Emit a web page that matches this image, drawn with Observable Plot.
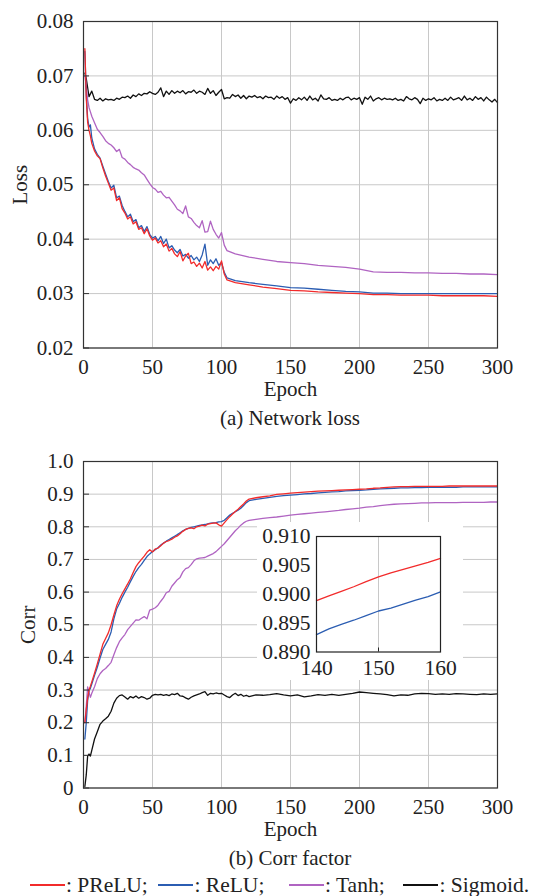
<!DOCTYPE html>
<html><head><meta charset="utf-8">
<script src="https://cdn.jsdelivr.net/npm/d3@7"></script>
<script src="https://cdn.jsdelivr.net/npm/@observablehq/plot@0.6"></script>
<style>
html,body{margin:0;padding:0;background:#fff;}
#root{position:relative;width:534px;height:896px;overflow:hidden;font-family:"Liberation Serif","Times New Roman",serif;color:#222;}
#root svg{position:absolute;}
#root svg text{font-family:"Liberation Serif","Times New Roman",serif;font-variant-numeric:normal;}
.cap{position:absolute;left:83px;width:414px;text-align:center;font-size:21px;line-height:21px;white-space:nowrap;}
.lg-line{position:absolute;height:1.5px;}
.lg-text{position:absolute;font-size:21.5px;line-height:21.5px;white-space:nowrap;}
</style></head><body><div id="root"></div>
<script>
// ---------- tick values ----------
const epochTicks = [0, 50, 100, 150, 200, 250, 300];
const lossTicks = [0.02, 0.03, 0.04, 0.05, 0.06, 0.07, 0.08];
const corrTicks = [0, 0.1, 0.2, 0.3, 0.4, 0.5, 0.6, 0.7, 0.8, 0.9, 1.0];
const insetEpochTicks = [140, 150, 160];
const insetCorrTicks = [0.890, 0.895, 0.900, 0.905, 0.910];

// ---------- (a) Network loss ----------
const lossEpochs = [1,2,3,4,5,6,8,10,12,14,16,18,20,22,24,26,28,30,32,34,36,38,40,42,44,46,48,50,52,54,56,58,60,62,64,66,68,70,72,74,76,78,80,82,84,86,88,90,92,94,96,98,100,102,104,110,120,130,140,150,160,170,180,190,200,210,220,230,240,250,260,270,280,290,300];
const lossPReLU = [0.0750,0.0660,0.0615,0.0600,0.0590,0.0576,0.0562,0.0553,0.0548,0.0531,0.0516,0.0503,0.0490,0.0494,0.0471,0.0476,0.0456,0.0448,0.0437,0.0441,0.0428,0.0432,0.0418,0.0421,0.0410,0.0419,0.0406,0.0398,0.0402,0.0393,0.0397,0.0386,0.0391,0.0378,0.0383,0.0373,0.0368,0.0377,0.0360,0.0369,0.0374,0.0355,0.0358,0.0350,0.0356,0.0347,0.0359,0.0343,0.0349,0.0342,0.0350,0.0345,0.0360,0.0336,0.0325,0.0320,0.0316,0.0312,0.0309,0.0306,0.0305,0.0303,0.0302,0.0301,0.0300,0.0298,0.0298,0.0297,0.0297,0.0297,0.0296,0.0296,0.0296,0.0296,0.0295];
const lossReLU = [0.0745,0.0665,0.0622,0.0606,0.0610,0.0586,0.0566,0.0556,0.0549,0.0534,0.0520,0.0506,0.0494,0.0499,0.0476,0.0479,0.0462,0.0451,0.0441,0.0446,0.0432,0.0436,0.0421,0.0425,0.0414,0.0423,0.0409,0.0402,0.0405,0.0397,0.0405,0.0392,0.0400,0.0384,0.0388,0.0380,0.0375,0.0381,0.0369,0.0372,0.0365,0.0370,0.0362,0.0367,0.0359,0.0371,0.0391,0.0352,0.0362,0.0355,0.0364,0.0352,0.0357,0.0339,0.0329,0.0324,0.0320,0.0317,0.0314,0.0311,0.0310,0.0308,0.0306,0.0304,0.0303,0.0301,0.0301,0.0300,0.0300,0.0300,0.0300,0.0300,0.0300,0.0300,0.0300];
const lossTanh = [0.0700,0.0682,0.0656,0.0642,0.0634,0.0626,0.0614,0.0602,0.0596,0.0589,0.0581,0.0576,0.0573,0.0568,0.0561,0.0565,0.0550,0.0547,0.0541,0.0537,0.0532,0.0529,0.0527,0.0522,0.0518,0.0510,0.0502,0.0495,0.0492,0.0486,0.0488,0.0481,0.0476,0.0477,0.0470,0.0463,0.0455,0.0452,0.0447,0.0461,0.0441,0.0438,0.0431,0.0425,0.0421,0.0434,0.0413,0.0414,0.0433,0.0418,0.0409,0.0402,0.0412,0.0389,0.0379,0.0373,0.0367,0.0363,0.0359,0.0357,0.0355,0.0352,0.0350,0.0348,0.0345,0.0340,0.0339,0.0339,0.0338,0.0338,0.0337,0.0337,0.0336,0.0336,0.0335];
const sigLossEpochs = [1,2,4,6,8,10,12,14,16,18,20,22,24,26,28,30,32,34,36,38,40,42,44,46,48,50,52,54,56,58,60,62,64,66,68,70,72,74,76,78,80,82,84,86,88,90,92,94,96,98,100,102,104,106,108,110,112,114,116,118,120,122,124,126,128,130,132,134,136,138,140,142,144,146,148,150,152,154,156,158,160,162,164,166,168,170,172,174,176,178,180,182,184,186,188,190,192,194,196,198,200,202,204,206,208,210,212,214,216,218,220,222,224,226,228,230,232,234,236,238,240,242,244,246,248,250,252,254,256,258,260,262,264,266,268,270,272,274,276,278,280,282,284,286,288,290,292,294,296,298,300];
const lossSigmoid = [0.0705,
0.0695,0.0662,0.0672,0.0657,0.0655,0.0659,0.0654,0.0658,0.0656,0.0657,
0.0655,0.0659,0.0657,0.0661,0.0660,0.0663,0.0659,0.0665,0.0662,0.0667,
0.0664,0.0668,0.0667,0.0671,0.0668,0.0666,0.0670,0.0678,0.0662,0.0672,
0.0666,0.0673,0.0668,0.0672,0.0669,0.0673,0.0667,0.0671,0.0670,0.0674,
0.0668,0.0672,0.0670,0.0666,0.0677,0.0668,0.0673,0.0664,0.0670,0.0675,
0.0658,0.0660,0.0659,0.0666,0.0662,0.0665,0.0659,0.0664,0.0658,0.0663,
0.0661,0.0664,0.0660,0.0662,0.0658,0.0663,0.0660,0.0661,0.0657,0.0663,
0.0659,0.0662,0.0657,0.0660,0.0650,0.0658,0.0655,0.0660,0.0656,0.0661,
0.0655,0.0663,0.0656,0.0659,0.0654,0.0665,0.0658,0.0657,0.0660,0.0655,
0.0657,0.0655,0.0659,0.0656,0.0660,0.0661,0.0656,0.0659,0.0657,0.0660,
0.0648,0.0661,0.0657,0.0663,0.0654,0.0658,0.0660,0.0656,0.0659,0.0657,
0.0658,0.0656,0.0659,0.0655,0.0657,0.0654,0.0662,0.0658,0.0656,0.0660,
0.0657,0.0649,0.0659,0.0655,0.0658,0.0656,0.0660,0.0654,0.0657,0.0655,
0.0659,0.0655,0.0661,0.0656,0.0658,0.0660,0.0655,0.0663,0.0656,0.0659,
0.0655,0.0662,0.0657,0.0660,0.0654,0.0661,0.0656,0.0652,0.0657,0.0651];

// ---------- (b) Corr factor ----------
const corrEpochs = [1,2,3,4,5,6,8,10,12,14,16,18,20,22,24,26,28,30,32,34,36,38,40,42,44,46,48,50,52,54,56,58,60,62,64,66,68,70,72,74,76,78,80,82,84,86,88,90,92,94,96,98,100,102,104,106,108,110,112,114,116,118,120,125,130,135,140,145,150,155,160,165,170,175,180,185,190,195,200,205,210,215,220,225,230,235,240,245,250,255,260,265,270,275,280,285,290,295,300];
const corrPReLU = [0.200,0.240,0.275,0.300,0.312,0.325,0.352,0.380,0.410,0.440,0.458,0.475,0.500,0.530,0.558,0.578,0.595,0.610,0.625,0.641,0.660,0.678,0.690,0.700,0.710,0.722,0.730,0.723,0.732,0.735,0.742,0.750,0.755,0.758,0.762,0.768,0.772,0.779,0.786,0.792,0.795,0.797,0.794,0.800,0.802,0.805,0.803,0.808,0.810,0.811,0.812,0.806,0.802,0.812,0.822,0.831,0.839,0.847,0.854,0.862,0.870,0.879,0.885,0.889,0.892,0.895,0.899,0.901,0.903,0.9045,0.9064,0.908,0.909,0.910,0.911,0.912,0.913,0.914,0.915,0.916,0.918,0.919,0.921,0.922,0.923,0.923,0.924,0.924,0.924,0.924,0.924,0.925,0.925,0.925,0.925,0.925,0.925,0.925,0.925];
const corrReLU = [0.150,0.200,0.268,0.298,0.305,0.318,0.345,0.370,0.398,0.424,0.440,0.455,0.478,0.518,0.548,0.565,0.584,0.600,0.615,0.632,0.648,0.663,0.675,0.685,0.697,0.709,0.717,0.724,0.730,0.736,0.744,0.750,0.756,0.761,0.766,0.771,0.776,0.782,0.788,0.792,0.795,0.798,0.800,0.802,0.804,0.806,0.807,0.809,0.811,0.812,0.813,0.815,0.816,0.820,0.828,0.836,0.841,0.846,0.851,0.857,0.865,0.874,0.880,0.884,0.887,0.890,0.8932,0.8955,0.8972,0.8988,0.9006,0.902,0.904,0.9055,0.907,0.908,0.910,0.911,0.912,0.913,0.915,0.916,0.917,0.918,0.919,0.919,0.920,0.920,0.921,0.921,0.921,0.921,0.921,0.922,0.922,0.922,0.922,0.922,0.922];
const corrTanh = [0.200,0.250,0.310,0.292,0.278,0.290,0.310,0.335,0.350,0.360,0.366,0.375,0.385,0.408,0.430,0.448,0.460,0.470,0.485,0.495,0.505,0.515,0.514,0.520,0.525,0.518,0.545,0.548,0.552,0.560,0.572,0.583,0.598,0.602,0.618,0.628,0.638,0.645,0.662,0.672,0.675,0.684,0.696,0.702,0.704,0.705,0.706,0.710,0.714,0.718,0.724,0.732,0.740,0.748,0.758,0.768,0.778,0.788,0.796,0.805,0.812,0.817,0.820,0.823,0.826,0.828,0.830,0.833,0.836,0.838,0.840,0.842,0.844,0.846,0.848,0.850,0.853,0.855,0.857,0.860,0.862,0.865,0.867,0.869,0.870,0.871,0.872,0.873,0.873,0.874,0.874,0.874,0.874,0.875,0.875,0.875,0.875,0.876,0.876];
const corrSigmoid = [0.005,0.040,0.098,0.104,0.098,0.115,0.150,0.172,0.195,0.205,0.212,0.220,0.235,0.260,0.275,0.283,0.285,0.279,0.272,0.280,0.276,0.282,0.275,0.280,0.277,0.272,0.275,0.284,0.287,0.285,0.287,0.284,0.286,0.283,0.288,0.286,0.290,0.282,0.281,0.276,0.272,0.278,0.282,0.285,0.288,0.292,0.295,0.284,0.290,0.288,0.291,0.289,0.290,0.285,0.280,0.277,0.285,0.290,0.283,0.287,0.281,0.284,0.280,0.285,0.284,0.286,0.289,0.285,0.282,0.285,0.279,0.282,0.286,0.284,0.287,0.284,0.287,0.290,0.294,0.292,0.290,0.288,0.286,0.282,0.285,0.284,0.288,0.290,0.289,0.287,0.288,0.287,0.289,0.288,0.287,0.286,0.288,0.287,0.288];

// ---------- inset (epochs 140-160) ----------
const insetEpochs = [140,142,144,146,148,150,152,154,156,158,160];
const insetPReLU = [0.8989,0.8997,0.9005,0.9013,0.9022,0.9030,0.9037,0.9043,0.9049,0.9055,0.9062];
const insetReLU = [0.8930,0.8940,0.8948,0.8955,0.8963,0.8971,0.8976,0.8983,0.8990,0.8996,0.9004];

// ---------- legend ----------
const seriesNames = ["PReLU", "ReLU", "Tanh", "Sigmoid"];
const seriesColors = ["#f22b2b", "#2b5db2", "#b064c2", "#111111"];

// ---------- helpers ----------
const FONT = '"Liberation Serif","Times New Roman",serif';
const GRID = "#c8c8c8";
const AXIS = "#333";
const rows = (ep, vals) => ep.map((e, i) => ({epoch: e, value: vals[i]}));
const root = document.getElementById("root");
const txt = {fontFamily: FONT, fontVariant: "normal"};

function mainChart({yDomain, yTicks, yFormat, yLabel, yLabelOffset, lines}) {
  return Plot.plot({
    width: 534, height: 400,
    marginTop: 21, marginBottom: 52.5, marginLeft: 83, marginRight: 37,
    style: {fontFamily: FONT, fontSize: "21px", color: "#222", background: "transparent", overflow: "visible"},
    x: {domain: [0, 300]},
    y: {domain: yDomain},
    marks: [
      Plot.gridX(epochTicks, {stroke: GRID, strokeOpacity: 1, strokeWidth: 1}),
      Plot.gridY(yTicks, {stroke: GRID, strokeOpacity: 1, strokeWidth: 1}),
      ...lines.map(l => Plot.line(rows(l.epochs, l.values), {x: "epoch", y: "value", stroke: l.color, strokeWidth: 1.3})),
      Plot.frame({stroke: AXIS, strokeWidth: 1.2}),
      Plot.axisX({...txt, ticks: epochTicks, tickSize: 0, tickPadding: 11, tickFormat: d => String(d),
        label: "Epoch", labelAnchor: "center", labelOffset: 47.5, labelArrow: "none"}),
      Plot.axisY({...txt, ticks: yTicks, tickSize: 0, tickPadding: 10, tickFormat: yFormat,
        label: yLabel, labelAnchor: "center", labelOffset: yLabelOffset, labelArrow: "none"}),
      Plot.axisY({ticks: yTicks, tickSize: 6, dx: 6, tickFormat: () => "", label: null, stroke: AXIS})
    ]
  });
}

const [cP, cR, cT, cS] = seriesColors;

const chartA = mainChart({
  yDomain: [0.02, 0.08], yTicks: lossTicks, yFormat: d => d.toFixed(2),
  yLabel: "Loss", yLabelOffset: 71.5,
  lines: [
    {epochs: sigLossEpochs, values: lossSigmoid, color: cS},
    {epochs: lossEpochs, values: lossTanh, color: cT},
    {epochs: lossEpochs, values: lossReLU, color: cR},
    {epochs: lossEpochs, values: lossPReLU, color: cP}
  ]
});
chartA.style.left = "0px"; chartA.style.top = "0px";
root.appendChild(chartA);

const chartB = mainChart({
  yDomain: [0, 1], yTicks: corrTicks, yFormat: d => d === 0 ? "0" : d.toFixed(1),
  yLabel: "Corr", yLabelOffset: 63,
  lines: [
    {epochs: corrEpochs, values: corrSigmoid, color: cS},
    {epochs: corrEpochs, values: corrTanh, color: cT},
    {epochs: corrEpochs, values: corrReLU, color: cR},
    {epochs: corrEpochs, values: corrPReLU, color: cP}
  ]
});
chartB.style.left = "0px"; chartB.style.top = "440px";
root.appendChild(chartB);

const inset = Plot.plot({
  width: 206, height: 158,
  marginTop: 14, marginBottom: 28.5, marginLeft: 59, marginRight: 23,
  style: {fontFamily: FONT, fontSize: "21.5px", color: "#222", background: "white", overflow: "visible"},
  x: {domain: [140, 160]},
  y: {domain: [0.89, 0.91]},
  marks: [
    Plot.gridX([150], {stroke: GRID, strokeOpacity: 1, strokeWidth: 1}),
    Plot.line(rows(insetEpochs, insetReLU), {x: "epoch", y: "value", stroke: cR, strokeWidth: 1.3}),
    Plot.line(rows(insetEpochs, insetPReLU), {x: "epoch", y: "value", stroke: cP, strokeWidth: 1.3}),
    Plot.frame({stroke: "#222", strokeWidth: 1.2}),
    Plot.axisX({...txt, ticks: insetEpochTicks, tickSize: 0, tickPadding: 8, tickFormat: d => String(d), label: null}),
    Plot.axisX({ticks: [150], tickSize: 4, dy: -4, tickFormat: () => "", label: null, stroke: "#222"}),
    Plot.axisY({...txt, ticks: insetCorrTicks, tickSize: 0, tickPadding: 6, tickFormat: d => d.toFixed(3), label: null})
  ]
});
inset.style.left = "257px"; inset.style.top = "522px";
root.appendChild(inset);

// captions
function addCap(text, top) {
  const d = document.createElement("div");
  d.className = "cap"; d.textContent = text; d.style.top = top + "px";
  root.appendChild(d);
}
addCap("(a) Network loss", 407.8);
addCap("(b) Corr factor", 847.8);

// legend
const legendLineX = [29.5, 158, 288.5, 403];
seriesNames.forEach((name, i) => {
  const ln = document.createElement("div");
  ln.className = "lg-line";
  ln.style.left = legendLineX[i] + "px"; ln.style.width = "35px";
  ln.style.top = "884px"; ln.style.backgroundColor = seriesColors[i];
  root.appendChild(ln);
  const tx = document.createElement("div");
  tx.className = "lg-text";
  tx.style.left = (legendLineX[i] + 36.5) + "px"; tx.style.top = "875px";
  tx.textContent = ": " + name + (i === seriesNames.length - 1 ? "." : ";");
  root.appendChild(tx);
});
</script>
</body></html>
